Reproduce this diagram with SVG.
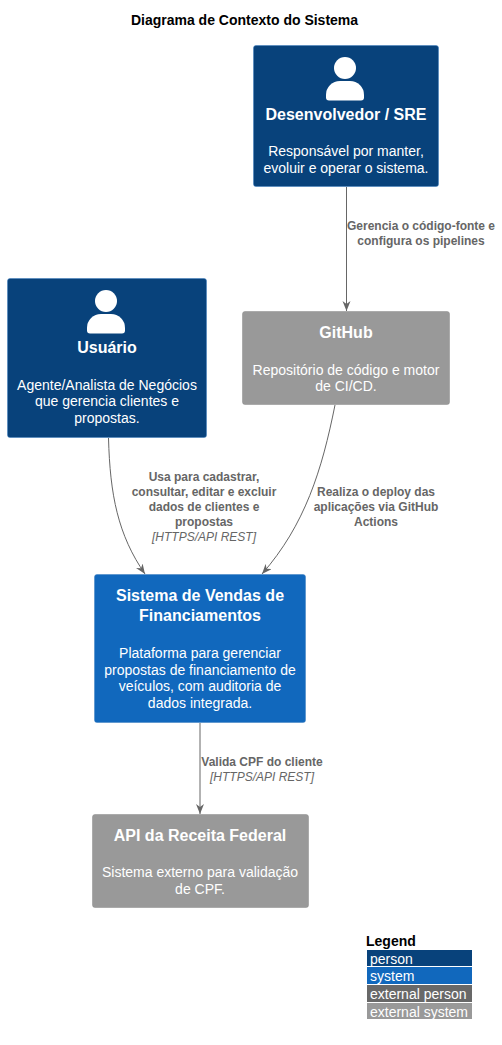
<svg xmlns="http://www.w3.org/2000/svg" width="502" height="1045" viewBox="0 0 502 1045">
<style>
text{font-family:"Liberation Sans",Arial,sans-serif;text-anchor:middle}
.box{stroke-width:.5}
.person{fill:#08427B;stroke:#3C7FC0}
.sys{fill:#1168BD;stroke:#3C7FC0}
.ext{fill:#999999;stroke:#8A8A8A}
.t{font-size:16px;font-weight:bold;fill:#fff}
.d{font-size:14px;fill:#fff}
.l{font-size:12px;font-weight:bold;fill:#666}
.i{font-size:12px;font-style:italic;fill:#666}
.lg{font-size:14px;fill:#fff;text-anchor:start}
.c{fill:none;stroke:#666;stroke-width:1}
</style>
<defs>
<marker id="a" markerUnits="userSpaceOnUse" markerWidth="11" markerHeight="9" refX="10" refY="4" orient="auto"><path d="M0 0L10 4L0 8L3 4Z" fill="#666"/></marker>
<g id="p"><circle cx="0" cy="0" r="11" fill="#fff"/><path d="M-19 29.500V27a14 14 0 0 1 14-14H5a14 14 0 0 1 14 14V29.500a3 3 0 0 1-3 3H-16a3 3 0 0 1-3-3Z" fill="#fff"/></g>
</defs>
<text x="244.500" y="25" style="font-size:14px;font-weight:bold;fill:#000">Diagrama de Contexto do Sistema</text>
<g id="connectors">
<path class="c" marker-end="url(#a)" d="M346.500 187V311"/>
<path class="c" marker-end="url(#a)" d="M108.500 438C110 495 118 535 145 574"/>
<path class="c" marker-end="url(#a)" d="M335 405C322 470 305 525 262 574"/>
<path class="c" marker-end="url(#a)" d="M200 723V814"/>
<text class="l" x="421" y="230">Gerencia o código-fonte e</text>
<text class="l" x="421" y="245">configura os pipelines</text>
<text class="l" x="204" y="481">Usa para cadastrar,</text>
<text class="l" x="204" y="496">consultar, editar e excluir</text>
<text class="l" x="204" y="511">dados de clientes e</text>
<text class="l" x="204" y="526">propostas</text>
<text class="i" x="204" y="541">[HTTPS/API REST]</text>
<text class="l" x="376" y="496">Realiza o deploy das</text>
<text class="l" x="376" y="511">aplicações via GitHub</text>
<text class="l" x="376" y="526">Actions</text>
<text class="l" x="262" y="766">Valida CPF do cliente</text>
<text class="i" x="262" y="781">[HTTPS/API REST]</text>
</g>
<g id="dev">
<rect class="box person" x="253.500" y="45.500" width="185" height="141" rx="2.500"/>
<use href="#p" x="345" y="68"/>
<text class="t" x="346" y="120">Desenvolvedor / SRE</text>
<text class="d" x="346" y="156">Responsável por manter,</text>
<text class="d" x="346" y="173">evoluir e operar o sistema.</text>
</g>
<g id="usuario">
<rect class="box person" x="7.500" y="278.500" width="199" height="159" rx="2.500"/>
<use href="#p" x="106" y="301"/>
<text class="t" x="107" y="353">Usuário</text>
<text class="d" x="107" y="390">Agente/Analista de Negócios</text>
<text class="d" x="107" y="406">que gerencia clientes e</text>
<text class="d" x="107" y="423">propostas.</text>
</g>
<g id="github">
<rect class="box ext" x="242.500" y="311.500" width="207" height="93" rx="2.500"/>
<text class="t" x="346" y="338">GitHub</text>
<text class="d" x="346" y="375">Repositório de código e motor</text>
<text class="d" x="346" y="391">de CI/CD.</text>
</g>
<g id="sistema">
<rect class="box sys" x="94.500" y="574.500" width="211" height="148" rx="2.500"/>
<text class="t" x="200" y="601">Sistema de Vendas de</text>
<text class="t" x="200" y="621">Financiamentos</text>
<text class="d" x="200" y="658">Plataforma para gerenciar</text>
<text class="d" x="200" y="675">propostas de financiamento de</text>
<text class="d" x="200" y="691">veículos, com auditoria de</text>
<text class="d" x="200" y="708">dados integrada.</text>
</g>
<g id="receita">
<rect class="box ext" x="92.500" y="814.500" width="216" height="93" rx="2.500"/>
<text class="t" x="200" y="841">API da Receita Federal</text>
<text class="d" x="200" y="877">Sistema externo para validação</text>
<text class="d" x="200" y="894">de CPF.</text>
</g>
<g id="legend">
<text x="366" y="946" style="font-size:14px;font-weight:bold;fill:#000;text-anchor:start">Legend</text>
<rect x="367" y="950" width="105" height="16" fill="#08427B"/>
<text class="lg" x="370" y="964">person</text>
<rect x="367" y="967" width="105" height="17" fill="#1168BD"/>
<text class="lg" x="370" y="981">system</text>
<rect x="367" y="985" width="105" height="17" fill="#686868"/>
<text class="lg" x="370" y="999">external person</text>
<rect x="367" y="1003" width="105" height="16" fill="#999999"/>
<text class="lg" x="370" y="1017">external system</text>
</g>
</svg>
